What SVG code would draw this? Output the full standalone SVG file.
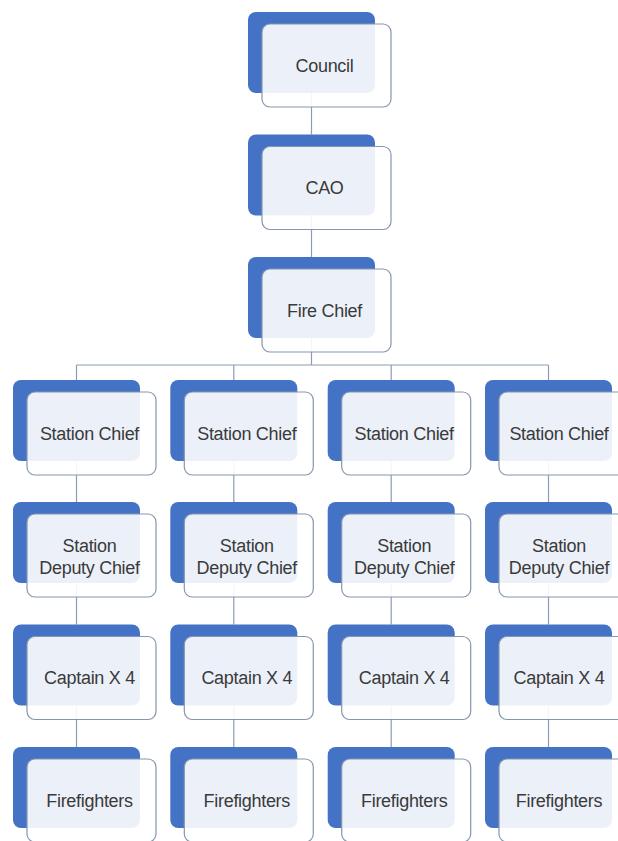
<svg xmlns="http://www.w3.org/2000/svg" width="618" height="841" viewBox="0 0 618 841">
<style>
.b{fill:#4472C4}
.w{fill:#ffffff;fill-opacity:0.9;stroke:#8596b0;stroke-width:1.2}
.t{font-family:"Liberation Sans",Arial,sans-serif;font-size:18px;fill:#3a3a3a;text-anchor:middle;letter-spacing:-0.3px}
.c{fill:none;stroke:#8c9cb8;stroke-width:1.2}
</style>
<defs>
<g id="box">
<rect class="b" x="0" y="0" width="127" height="81" rx="8"/>
<rect class="w" x="14" y="12" width="129" height="83" rx="8"/>
</g>
</defs>
<rect width="618" height="841" fill="#ffffff"/>
<g id="connectors">
<path class="c" d="M311.5 93V134.5M311.5 215.5V257M311.5 338V365M76.5 365H548.5"/>
<path class="c" d="M76.5 365V380M76.5 461V502M76.5 583V624.5M76.5 705.5V747"/>
<path class="c" d="M233.8 365V380M233.8 461V502M233.8 583V624.5M233.8 705.5V747"/>
<path class="c" d="M391.2 365V380M391.2 461V502M391.2 583V624.5M391.2 705.5V747"/>
<path class="c" d="M548.5 365V380M548.5 461V502M548.5 583V624.5M548.5 705.5V747"/>
</g>
<g id="council" transform="translate(248,12)"><use href="#box"/><text class="t" x="76.5" y="59.5">Council</text></g>
<g id="cao" transform="translate(248,134.5)"><use href="#box"/><text class="t" x="76.5" y="59.5">CAO</text></g>
<g id="fire-chief" transform="translate(248,257)"><use href="#box"/><text class="t" x="76.5" y="59.5">Fire Chief</text></g>

<g id="station-chief-1" transform="translate(13,380)"><use href="#box"/><text class="t" x="76.5" y="59.5">Station Chief</text></g>
<g id="station-chief-2" transform="translate(170.3,380)"><use href="#box"/><text class="t" x="76.5" y="59.5">Station Chief</text></g>
<g id="station-chief-3" transform="translate(327.7,380)"><use href="#box"/><text class="t" x="76.5" y="59.5">Station Chief</text></g>
<g id="station-chief-4" transform="translate(485,380)"><use href="#box"/><text class="t" x="74" y="59.5">Station Chief</text></g>

<g id="deputy-1" transform="translate(13,502)"><use href="#box"/><text class="t" x="76.5" y="49.5">Station</text><text class="t" x="76.5" y="71.5">Deputy Chief</text></g>
<g id="deputy-2" transform="translate(170.3,502)"><use href="#box"/><text class="t" x="76.5" y="49.5">Station</text><text class="t" x="76.5" y="71.5">Deputy Chief</text></g>
<g id="deputy-3" transform="translate(327.7,502)"><use href="#box"/><text class="t" x="76.5" y="49.5">Station</text><text class="t" x="76.5" y="71.5">Deputy Chief</text></g>
<g id="deputy-4" transform="translate(485,502)"><use href="#box"/><text class="t" x="74" y="49.5">Station</text><text class="t" x="74" y="71.5">Deputy Chief</text></g>

<g id="captain-1" transform="translate(13,624.5)"><use href="#box"/><text class="t" x="76.5" y="59.5">Captain X 4</text></g>
<g id="captain-2" transform="translate(170.3,624.5)"><use href="#box"/><text class="t" x="76.5" y="59.5">Captain X 4</text></g>
<g id="captain-3" transform="translate(327.7,624.5)"><use href="#box"/><text class="t" x="76.5" y="59.5">Captain X 4</text></g>
<g id="captain-4" transform="translate(485,624.5)"><use href="#box"/><text class="t" x="74" y="59.5">Captain X 4</text></g>

<g id="firefighters-1" transform="translate(13,747)"><use href="#box"/><text class="t" x="76.5" y="59.5">Firefighters</text></g>
<g id="firefighters-2" transform="translate(170.3,747)"><use href="#box"/><text class="t" x="76.5" y="59.5">Firefighters</text></g>
<g id="firefighters-3" transform="translate(327.7,747)"><use href="#box"/><text class="t" x="76.5" y="59.5">Firefighters</text></g>
<g id="firefighters-4" transform="translate(485,747)"><use href="#box"/><text class="t" x="74" y="59.5">Firefighters</text></g>
</svg>
